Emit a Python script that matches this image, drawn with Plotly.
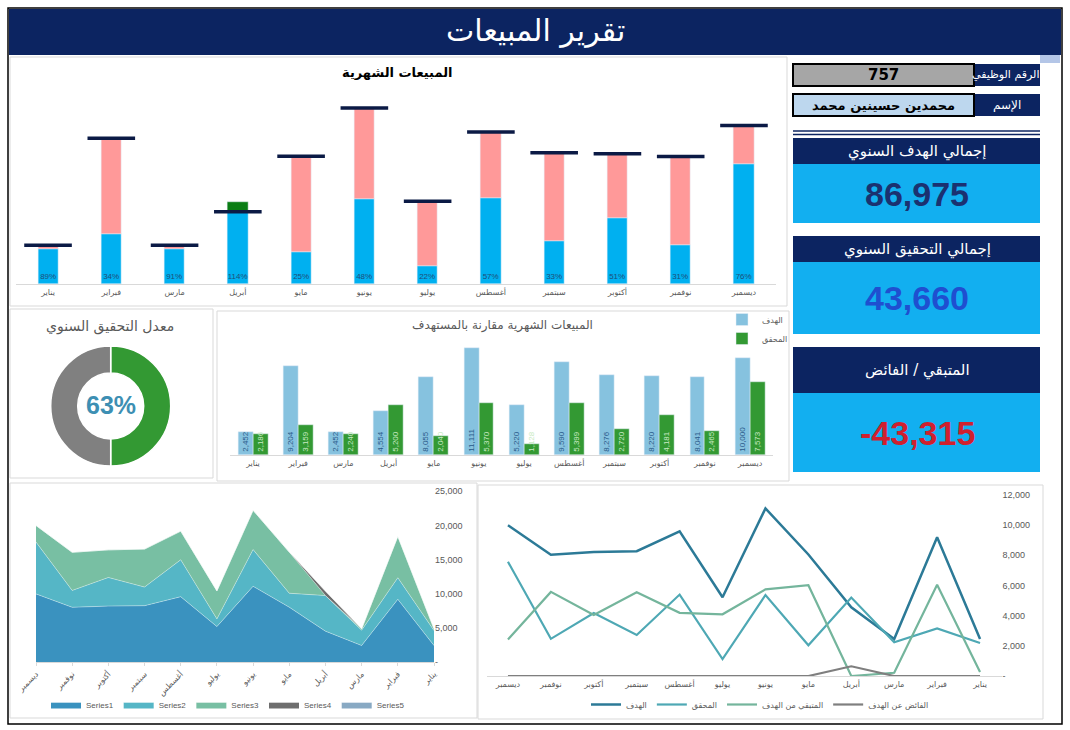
import plotly.graph_objects as go

W, H = 1070, 730
def X(px): return px / W
def Y(py): return 1 - py / H

# ---------------- data ----------------
months = ["يناير", "فبراير", "مارس", "أبريل", "مايو", "يونيو",
          "يوليو", "أغسطس", "سبتمبر", "أكتوبر", "نوفمبر", "ديسمبر"]
target = [2452, 9204, 2452, 4554, 8055, 11111, 5220, 9590, 8276, 8220, 8041, 10000]
achieved = [2186, 3159, 2240, 5200, 2040, 5370, 1128, 5399, 2720, 4181, 2465, 7573]
pct_labels = ["89%", "34%", "91%", "114%", "25%", "48%", "22%", "57%", "33%", "51%", "31%", "76%"]
series5 = [0] * 12
donut_values = [50, 50]
donut_labels = ["المحقق", "المتبقي"]
rate_label = "63%"
employee_id = "757"
employee_name = "محمدين حسينين محمد"
total_target_label = "86,975"
total_achieved_label = "43,660"
balance_label = "-43,315"
area_names = ["Series1", "Series2", "Series3", "Series4", "Series5"]
line_names = ["الهدف", "المحقق", "المتبقي من الهدف", "الفائض عن الهدف"]
area_ticks = [0, 5000, 10000, 15000, 20000, 25000]
line_ticks = [0, 2000, 4000, 6000, 8000, 10000, 12000]

covered = [min(a, t) for a, t in zip(achieved, target)]
remaining = [max(t - a, 0) for a, t in zip(achieved, target)]
surplus = [max(a - t, 0) for a, t in zip(achieved, target)]

def tick_text(vals):
    return ["-" if v == 0 else f"{v:,}" for v in vals]

NAVY = "#0c2461"
SKY = "#12aff0"
GRAY_TXT = "#595959"
COND = "Liberation Sans Narrow, Liberation Sans, Arial, sans-serif"
AR = "DejaVu Sans, Noto Sans, sans-serif"

fig = go.Figure()

# ---------------- top chart: monthly sales stacked ----------------
fig.add_trace(go.Bar(x=months, y=covered, width=0.32, marker_color="#00b0f0",
                     text=pct_labels, textposition="inside", insidetextanchor="start",
                     textangle=0, textfont=dict(size=8, color="#1f4e79", family=COND),
                     xaxis="x", yaxis="y", showlegend=False))
fig.add_trace(go.Bar(x=months, y=remaining, base=covered, width=0.32, marker_color="#ff9999",
                     xaxis="x", yaxis="y", showlegend=False))
fig.add_trace(go.Bar(x=months, y=surplus, base=target, width=0.32, marker_color="#0a7d14",
                     xaxis="x", yaxis="y", showlegend=False))
fig.add_trace(go.Scatter(x=months, y=target, mode="markers",
                         marker=dict(symbol="line-ew", size=34, line=dict(color="#0b1a45", width=3.5)),
                         xaxis="x", yaxis="y", showlegend=False))

# ---------------- middle chart: target vs achieved ----------------
fig.add_trace(go.Bar(x=months, y=target, offset=-0.33, width=0.33, marker_color="#86c2df",
                     name="الهدف", texttemplate="%{y:,}", textposition="inside",
                     insidetextanchor="start", textangle=-90,
                     textfont=dict(size=8, color="#2a5a8a", family=COND),
                     xaxis="x2", yaxis="y2", legend="legend"))
fig.add_trace(go.Bar(x=months, y=achieved, offset=0, width=0.33, marker_color="#339933",
                     name="المحقق", texttemplate="%{y:,}", textposition="inside",
                     insidetextanchor="start", textangle=-90,
                     textfont=dict(size=8, color="#c9eac3", family=COND),
                     xaxis="x2", yaxis="y2", legend="legend"))

# ---------------- area chart ----------------
area_data = [target, achieved, remaining, surplus, series5]
area_colors = ["#3a92bf", "#55b6c6", "#78bfa3", "#6e6e6e", "#88a9c3"]
for nm, vals, col in zip(area_names, area_data, area_colors):
    fig.add_trace(go.Scatter(x=months, y=vals, name=nm, stackgroup="area", mode="lines",
                             line=dict(width=0.8, color="rgba(255,255,255,0.45)"),
                             fillcolor=col, xaxis="x3", yaxis="y3", legend="legend2"))

# ---------------- line chart ----------------
line_data = [target, achieved, remaining, surplus]
line_colors = ["#2c7a97", "#4ea8b4", "#74b59c", "#7f7f7f"]
line_widths = [2.5, 2.2, 2.2, 2.2]
for nm, vals, col, lw in zip(line_names, line_data, line_colors, line_widths):
    fig.add_trace(go.Scatter(x=months, y=vals, name=nm, mode="lines",
                             line=dict(color=col, width=lw),
                             xaxis="x4", yaxis="y4", legend="legend3"))

# ---------------- donut ----------------
fig.add_trace(go.Pie(values=donut_values, labels=donut_labels, hole=0.55, sort=False,
                     direction="clockwise", rotation=0, textinfo="none",
                     marker=dict(colors=["#339933", "#808080"], line=dict(color="white", width=1.5)),
                     domain=dict(x=[X(50.7), X(170.7)], y=[Y(466), Y(346)]),
                     showlegend=False))

axis_common = dict(type="category", categoryorder="array", categoryarray=months,
                   showgrid=False, zeroline=False, showline=True, linecolor="#d9d9d9",
                   tickfont=dict(size=8, color=GRAY_TXT, family=AR), fixedrange=True,
                   automargin=False)

fig.update_layout(
    width=W, height=H, margin=dict(l=0, r=0, t=0, b=0, pad=0, autoexpand=False),
    paper_bgcolor="white", plot_bgcolor="rgba(0,0,0,0)",
    barmode="overlay", bargap=0,
    uniformtext=dict(minsize=8, mode="show"),
    font=dict(family=AR, color=GRAY_TXT),
    xaxis=dict(domain=[X(16.4), X(775.6)], range=[-0.5, 11.5], anchor="y", ticks="", **axis_common),
    yaxis=dict(domain=[Y(284), Y(78)], range=[0, 13000], visible=False, anchor="x"),
    xaxis2=dict(domain=[X(230.4), X(772.6)], range=[-0.5, 11.5], anchor="y2", ticks="", **axis_common),
    yaxis2=dict(domain=[Y(455.3), Y(339)], range=[0, 12000], visible=False, anchor="x2"),
    xaxis3=dict(domain=[X(36), X(434)], range=[11, 0], anchor="y3", tickangle=-45,
                ticks="outside", ticklen=3, tickcolor="#d9d9d9", **axis_common),
    yaxis3=dict(domain=[Y(662.3), Y(491.3)], range=[0, 25000], anchor="x3", side="right",
                tickvals=area_ticks, ticktext=tick_text(area_ticks), showgrid=False, automargin=False,
                zeroline=False, showline=False, tickfont=dict(size=9, color=GRAY_TXT, family=COND)),
    xaxis4=dict(domain=[X(486.5), X(1001.5)], range=[11.5, -0.5], anchor="y4", ticks="", **axis_common),
    yaxis4=dict(domain=[Y(676), Y(495)], range=[0, 12000], anchor="x4", side="right",
                tickvals=line_ticks, ticktext=tick_text(line_ticks), showgrid=False, automargin=False,
                zeroline=False, showline=False, tickfont=dict(size=9, color=GRAY_TXT, family=COND)),
    legend=dict(x=X(722), y=Y(305), xanchor="left", yanchor="top", orientation="v",
                font=dict(size=8, color=GRAY_TXT), bgcolor="rgba(0,0,0,0)", itemwidth=30,
                tracegroupgap=0),
    legend2=dict(x=X(228), y=Y(690), xanchor="center", yanchor="top", orientation="h",
                 traceorder="normal",
                 font=dict(size=8, color=GRAY_TXT, family=COND), bgcolor="rgba(0,0,0,0)"),
    legend3=dict(x=X(760), y=Y(690), xanchor="center", yanchor="top", orientation="h",
                 traceorder="normal",
                 font=dict(size=8, color=GRAY_TXT), bgcolor="rgba(0,0,0,0)"),
)

shapes = []
def rect(x0, y0, x1, y1, fill=None, line=None, lw=1):
    shapes.append(dict(type="rect", xref="paper", yref="paper",
                       x0=X(x0), x1=X(x1), y0=Y(y1), y1=Y(y0),
                       fillcolor=fill if fill else "rgba(0,0,0,0)",
                       line=dict(color=line if line else "rgba(0,0,0,0)", width=lw if line else 0),
                       layer="above"))
def hline(x0, x1, y, col, lw):
    shapes.append(dict(type="line", xref="paper", yref="paper", x0=X(x0), x1=X(x1),
                       y0=Y(y), y1=Y(y), line=dict(color=col, width=lw)))

rect(9, 9, 1061, 55, fill=NAVY)
rect(8, 8, 1062, 724, line="#000000", lw=1.5)
# panels
rect(10, 57, 787, 306, line="#d9d9d9")
rect(10, 309, 213, 478, line="#d9d9d9")
rect(217, 311, 789, 481, line="#d9d9d9")
rect(10, 483, 477, 718, line="#d9d9d9")
rect(478, 485, 1043, 719, line="#d9d9d9")
# right panel
rect(1040, 55, 1060, 63, fill="#b4c6e7")
rect(974, 64, 1040, 86, fill=NAVY)
rect(793, 64, 974, 86, fill="#a6a6a6", line="#000000", lw=2)
rect(974, 94, 1040, 116, fill=NAVY)
rect(793, 94, 974, 116, fill="#bdd7ee", line="#000000", lw=2)
hline(793, 1040, 131, NAVY, 1.5)
hline(793, 1040, 134.5, NAVY, 1.5)
rect(793, 138, 1040, 164, fill=NAVY)
rect(793, 164, 1040, 223, fill=SKY)
rect(793, 236, 1040, 262, fill=NAVY)
rect(793, 262, 1040, 334, fill=SKY)
rect(793, 347, 1040, 393, fill=NAVY)
rect(793, 393, 1040, 472, fill=SKY)

anns = []
def ann(text, px, py, size, color, bold=False, family=AR, xanchor="center"):
    if bold:
        text = f"<b>{text}</b>"
    anns.append(dict(text=text, x=X(px), y=Y(py), xref="paper", yref="paper",
                     xanchor=xanchor, yanchor="middle", showarrow=False,
                     font=dict(size=size, color=color, family=family)))

ann("تقرير المبيعات", 535, 31, 30, "white")
ann("المبيعات الشهرية", 397, 72, 13, "#000000", bold=True)
ann("المبيعات الشهرية مقارنة بالمستهدف", 502, 325, 12, GRAY_TXT)
ann("معدل التحقيق السنوي", 110, 326, 14, GRAY_TXT)
ann(rate_label, 110.7, 405, 25, "#3d8fb3", bold=True, family=COND)

ann(employee_id, 883, 75, 15, "#000000", bold=True)
ann("الرقم الوظيفي", 1041, 75, 11, "white", xanchor="right")
ann(employee_name, 883, 105, 13, "#000000", bold=True)
ann("الإسم", 1007, 105, 12, "white")
ann("إجمالي الهدف السنوي", 917, 151, 15, "white")
ann(total_target_label, 917, 194, 34, "#1b3170", bold=True, family=COND)
ann("إجمالي التحقيق السنوي", 917, 249, 15, "white")
ann(total_achieved_label, 917, 298, 34, "#1f4fd0", bold=True, family=COND)
ann("المتبقي / الفائض", 917, 370, 15, "white")
ann(balance_label, 917, 433, 34, "#d0202e", bold=True, family=COND)

fig.update_layout(shapes=shapes, annotations=anns)
fig.write_html("out.html", config={"displayModeBar": False},
               post_script="document.body.style.margin='0';document.body.style.overflow='hidden';")
